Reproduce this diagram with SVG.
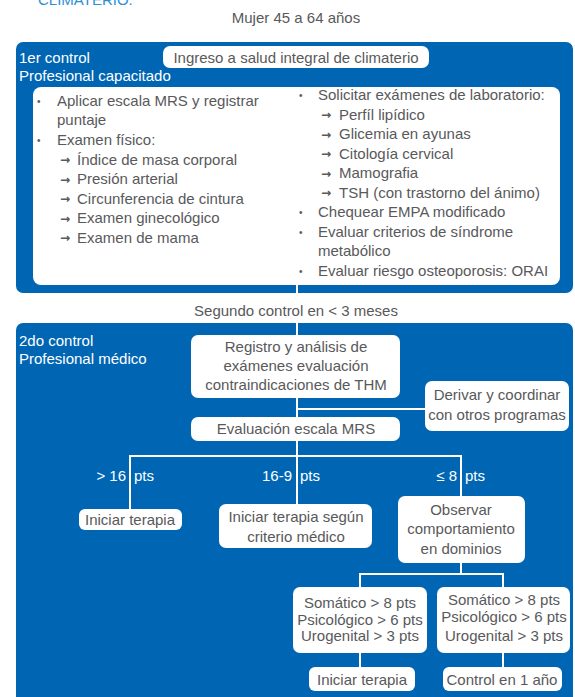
<svg xmlns="http://www.w3.org/2000/svg" width="575" height="697" viewBox="0 0 575 697">
<style>
.t{font-family:"Liberation Sans",Arial,sans-serif;font-size:15px;fill:#58595b}
.w{font-family:"Liberation Sans",Arial,sans-serif;font-size:15px;fill:#ffffff}
.c{text-anchor:middle}
.e{text-anchor:end}
.blue{fill:#0066b3}
.box{fill:#ffffff}
.b{font-family:"Liberation Sans",Arial,sans-serif;font-size:10px;fill:#58595b}
.a{font-family:"DejaVu Sans",sans-serif;font-size:12px;fill:#58595b;font-weight:bold}
.ln{stroke:#ffffff;stroke-width:2;fill:none}
</style>
<rect width="575" height="697" fill="#ffffff"/>
<text x="38" y="5" style="font-family:'Liberation Sans',Arial,sans-serif;font-size:15px;fill:#2b8fd6">CLIMATERIO.</text>
<g id="title"><text class="t c" x="296" y="23">Mujer 45 a 64 años</text></g>

<g id="control1">
<rect class="blue" x="16" y="42" width="557" height="251" rx="7"/>
<text class="w" x="19" y="63">1er control</text>
<text class="w" x="19" y="81">Profesional capacitado</text>
</g>
<g id="ingreso">
<rect class="box" x="163" y="46" width="266" height="22" rx="7"/>
<text class="t c" x="296" y="62.5">Ingreso a salud integral de climaterio</text>
</g>
<g id="lista1">
<rect class="box" x="33" y="87" width="527" height="198" rx="8"/>
<text class="b" x="37" y="105">•</text>
<text class="t" x="57" y="106">Aplicar escala MRS y registrar</text>
<text class="t" x="57" y="125">puntaje</text>
<text class="b" x="37" y="144">•</text>
<text class="t" x="57" y="145">Examen físico:</text>
<text class="a" x="60" y="164">→</text><text class="t" x="77" y="164.5">Índice de masa corporal</text>
<text class="a" x="60" y="183.5">→</text><text class="t" x="77" y="184">Presión arterial</text>
<text class="a" x="60" y="203">→</text><text class="t" x="77" y="203.5">Circunferencia de cintura</text>
<text class="a" x="60" y="222.5">→</text><text class="t" x="77" y="223">Examen ginecológico</text>
<text class="a" x="60" y="242">→</text><text class="t" x="77" y="242.5">Examen de mama</text>

<text class="b" x="299" y="99">•</text>
<text class="t" x="318" y="100">Solicitar exámenes de laboratorio:</text>
<text class="a" x="321" y="119">→</text><text class="t" x="339" y="119.5">Perfíl lipídico</text>
<text class="a" x="321" y="138.5">→</text><text class="t" x="339" y="139">Glicemia en ayunas</text>
<text class="a" x="321" y="158">→</text><text class="t" x="339" y="158.5">Citología cervical</text>
<text class="a" x="321" y="177.5">→</text><text class="t" x="339" y="178">Mamografia</text>
<text class="a" x="321" y="197">→</text><text class="t" x="339" y="197.5">TSH (con trastorno del ánimo)</text>
<text class="b" x="299" y="216">•</text>
<text class="t" x="318" y="217">Chequear EMPA modificado</text>
<text class="b" x="299" y="235.5">•</text>
<text class="t" x="318" y="236.5">Evaluar criterios de síndrome</text>
<text class="t" x="318" y="256">metabólico</text>
<text class="b" x="299" y="274.5">•</text>
<text class="t" x="318" y="275.5">Evaluar riesgo osteoporosis: ORAI</text>
</g>

<g id="segundo"><text class="t c" x="296" y="316">Segundo control en &lt; 3 meses</text></g>

<g id="control2">
<rect class="blue" x="16" y="323" width="557" height="390" rx="7"/>
<text class="w" x="19" y="346">2do control</text>
<text class="w" x="19" y="364">Profesional médico</text>
</g>

<g id="connectors">
<line class="ln" x1="297" y1="285" x2="297" y2="293"/>
<line class="ln" x1="297" y1="323" x2="297" y2="336"/>
<line class="ln" x1="297" y1="398" x2="297" y2="417"/>
<line class="ln" x1="297" y1="409" x2="426" y2="409"/>
<line class="ln" x1="297" y1="441" x2="297" y2="456"/>
<polyline class="ln" points="130,509 130,456 461,456 461,496"/>
<line class="ln" x1="297" y1="456" x2="297" y2="504"/>
<line class="ln" x1="461" y1="563" x2="461" y2="574"/>
<polyline class="ln" points="360,587 360,574 503,574 503,587"/>
<line class="ln" x1="360" y1="653" x2="360" y2="667"/>
<line class="ln" x1="503" y1="653" x2="503" y2="667"/>
</g>

<g id="registro">
<rect class="box" x="191" y="335" width="209" height="63" rx="7"/>
<text class="t c" x="296" y="352">Registro y análisis de</text>
<text class="t c" x="296" y="371">exámenes evaluación</text>
<text class="t c" x="296" y="390">contraindicaciones de THM</text>
</g>
<g id="derivar">
<rect class="box" x="425" y="381" width="144" height="50" rx="7"/>
<text class="t c" x="497" y="400">Derivar y coordinar</text>
<text class="t c" x="497" y="420">con otros programas</text>
</g>
<g id="evaluacion">
<rect class="box" x="191" y="417" width="209" height="24" rx="7"/>
<text class="t c" x="296" y="434">Evaluación escala MRS</text>
</g>

<g id="labels">
<text class="w e" x="126" y="481">&gt; 16</text><text class="w" x="134" y="481">pts</text>
<text class="w e" x="292" y="481">16-9</text><text class="w" x="300" y="481">pts</text>
<text class="w e" x="457" y="481">≤ 8</text><text class="w" x="465" y="481">pts</text>
</g>

<g id="iniciar1">
<rect class="box" x="79" y="509" width="103" height="21" rx="6"/>
<text class="t c" x="130" y="525">Iniciar terapia</text>
</g>
<g id="criterio">
<rect class="box" x="219" y="504" width="153" height="44" rx="7"/>
<text class="t c" x="296" y="522">Iniciar terapia según</text>
<text class="t c" x="296" y="542">criterio médico</text>
</g>
<g id="observar">
<rect class="box" x="398" y="496" width="127" height="67" rx="7"/>
<text class="t c" x="461" y="515">Observar</text>
<text class="t c" x="461" y="534">comportamiento</text>
<text class="t c" x="461" y="554">en dominios</text>
</g>
<g id="dominios1">
<rect class="box" x="293" y="587" width="134" height="66" rx="7"/>
<text class="t c" x="360" y="608">Somático &gt; 8 pts</text>
<text class="t c" x="360" y="625">Psicológico &gt; 6 pts</text>
<text class="t c" x="360" y="641">Urogenital &gt; 3 pts</text>
</g>
<g id="dominios2">
<rect class="box" x="437" y="587" width="133" height="66" rx="7"/>
<text class="t c" x="504" y="605">Somático &gt; 8 pts</text>
<text class="t c" x="504" y="622">Psicológico &gt; 6 pts</text>
<text class="t c" x="504" y="641">Urogenital &gt; 3 pts</text>
</g>
<g id="iniciar2">
<rect class="box" x="309" y="667" width="106" height="24" rx="6"/>
<text class="t c" x="362" y="685">Iniciar terapia</text>
</g>
<g id="control1ano">
<rect class="box" x="443" y="667" width="119" height="24" rx="6"/>
<text class="t c" x="502" y="685">Control en 1 año</text>
</g>
</svg>
